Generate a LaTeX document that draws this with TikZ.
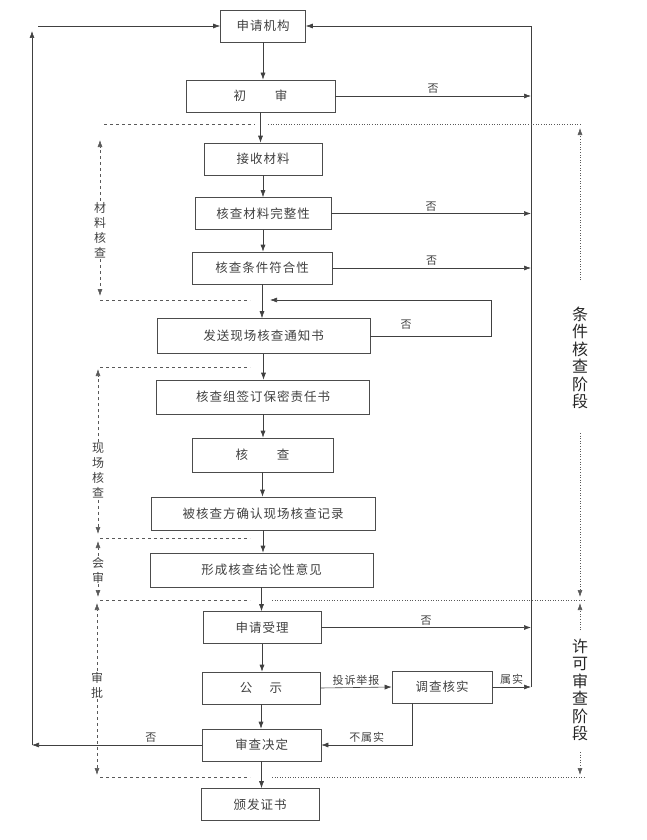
\documentclass[tikz,border=0pt]{standalone}
\usepackage{fontspec}
\setmainfont{Noto Sans CJK SC}
\newfontfamily\cjk[LetterSpace=8]{Noto Sans CJK SC}
\usetikzlibrary{arrows.meta}
\begin{document}
\begin{tikzpicture}[x=1pt,y=-1pt,
    every node/.style={font=\cjk\fontsize{12.5}{15}\selectfont,text=black!75},
    box/.style={draw=black!70,rectangle,line width=0.6pt,minimum height=32,inner sep=0pt},
    tip/.style={-{Latex[length=7pt,width=5pt]}},
    flow/.style={draw=black!75,line width=0.6pt,tip},
    sep/.style={draw=black!65,line width=0.6pt,dashed},
    sepr/.style={draw=black!65,line width=0.6pt,dotted},
    lab/.style={font=\cjk\fontsize{11}{13}\selectfont,inner sep=2pt},
    side/.style={font=\cjk\fontsize{12}{15}\selectfont,align=center,inner sep=1pt},
    stage/.style={font=\fontsize{16}{17.5}\selectfont,align=center,text=black!85,inner sep=1pt}]
        \useasboundingbox (0,0) rectangle (646,840);
        % Define the nodes for the main flow
        \node[box,minimum width=85]  (ap) at (263,26)    {申请机构};
        \node[box,minimum width=149] (cs) at (260.5,96)  {初\hspace{2.3em}审};
        \node[box,minimum width=118] (js) at (263,159)   {接收材料};
        \node[box,minimum width=136] (wz) at (263,213.5) {核查材料完整性};
        \node[box,minimum width=140] (fh) at (262,268)   {核查条件符合性};
        \node[box,minimum width=213,minimum height=35] (tz) at (263.5,336) {发送现场核查通知书};
        \node[box,minimum width=213,minimum height=34] (bm) at (263,397)   {核查组签订保密责任书};
        \node[box,minimum width=141,minimum height=34] (hc) at (262.5,455) {核\hspace{2.3em}查};
        \node[box,minimum width=224,minimum height=33] (qr) at (263,513.5) {被核查方确认现场核查记录};
        \node[box,minimum width=223,minimum height=34] (jl) at (261.5,570) {形成核查结论性意见};
        \node[box,minimum width=118] (sl) at (262,627.5) {申请受理};
        \node[box,minimum width=118] (gs) at (261,688)   {公\hspace{1.4em}示};
        \node[box,minimum width=100] (dc) at (442,687)   {调查核实};
        \node[box,minimum width=119] (jd) at (261.5,745) {审查决定};
        \node[box,minimum width=118] (bz) at (260,804.5) {颁发证书};
        % Connect the nodes of the main flow
        \foreach \a/\b in {ap/cs,cs/js,js/wz,wz/fh,fh/tz,tz/bm,bm/hc,hc/qr,qr/jl,jl/sl,sl/gs,gs/jd,jd/bz}
            \draw[flow] (\a.south) -- (\a.south |- \b.north);
        % Return loops
        \coordinate (rt)  at (531,26);
        \coordinate (rb)  at (531,687);
        \coordinate (lb)  at (32,745);
        \coordinate (lt)  at (32,31);
        \coordinate (lh)  at (38,26);
        \coordinate (bk)  at (270,300);
        \coordinate (bkr) at (491,300);
        \coordinate (dcs) at (412,703);
        \draw[flow] (rb) -- (rt) -- (ap.east);
        \foreach \n in {cs,wz,fh,sl}
            \draw[flow] (\n.east) -- (\n.east -| rt) node[lab,midway,above] {否};
        \draw[flow] (tz.east) -| (bkr) -- (bk);
        \node[lab] (tzno) at (406,325) {否};
        \draw[flow] (gs.east) -- (dc.west) node[lab,midway,above] {投诉举报};
        \draw[flow] (dc.east) -- (rb) node[lab,midway,above] {属实};
        \draw[flow] (dcs) |- (jd.east) node[lab,pos=0.75,above] {不属实};
        \draw[flow] (jd.west) -- (lb) node[lab,pos=0.3,above] {否};
        \draw[flow] (lb) -- (lt);
        \draw[flow] (lh) -- (ap.west);
        % Stage separators
        \draw[sep]  (104,124) -- (255,124);
        \draw[sepr] (268,124) -- (582,124);
        \draw[sep]  (100,300) -- (250,300);
        \draw[sep]  (100,367) -- (250,367);
        \draw[sep]  (100,538) -- (250,538);
        \draw[sep]  (100,600) -- (250,600);
        \draw[sepr] (272,600) -- (586,600);
        \draw[sep]  (100,777) -- (250,777);
        \draw[sepr] (272,777) -- (586,777);
        % Side labels on the left
        \node[side] (mc) at (100,230) {材\\料\\核\\查};
        \node[side] (xc) at (98,471)  {现\\场\\核\\查};
        \node[side] (hs) at (98,570)  {会\\审};
        \node[side] (sp) at (97,685)  {审\\批};
        \draw[sep,tip] (mc.north) -- (100,140);
        \draw[sep,tip] (mc.south) -- (100,296);
        \draw[sep,tip] (xc.north) -- (98,369);
        \draw[sep,tip] (xc.south) -- (98,534);
        \draw[sep,tip] (hs.north) -- (98,541);
        \draw[sep,tip] (hs.south) -- (98,597);
        \draw[sep,tip] (sp.north) -- (97,603);
        \draw[sep,tip] (sp.south) -- (97,775);
        % Stage labels on the right
        \node[stage] (tj) at (580,358) {条\\件\\核\\查\\阶\\段};
        \node[stage] (xk) at (580,690) {许\\可\\审\\查\\阶\\段};
        \draw[sepr,tip] (580,280) -- (580,128);
        \draw[sepr,tip] (580,433) -- (580,597);
        \draw[sepr,tip] (580,630) -- (580,603);
        \draw[sepr,tip] (580,752) -- (580,775);
    \end{tikzpicture}
\end{document}
